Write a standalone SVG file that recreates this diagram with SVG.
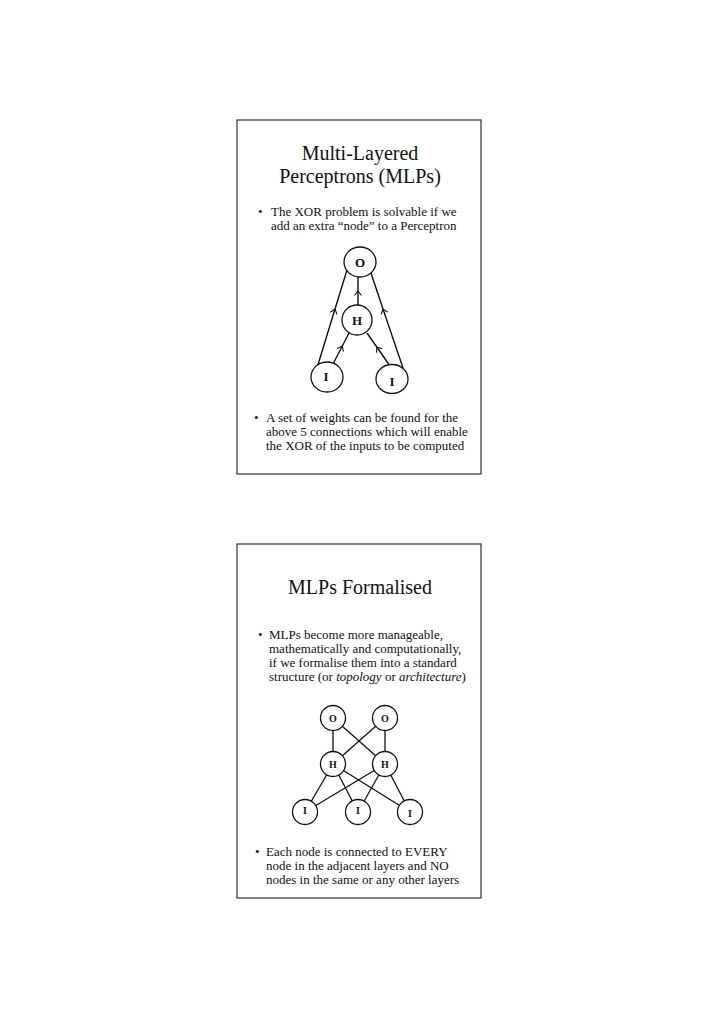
<svg xmlns="http://www.w3.org/2000/svg" width="720" height="1019" viewBox="0 0 720 1019">
<defs>
<style>
.frame{fill:#fff;stroke:#333;stroke-width:1.2}
.title{font-family:"Liberation Serif","Times New Roman",serif;font-size:20px;fill:#111;text-anchor:middle}
.body{font-family:"Liberation Serif","Times New Roman",serif;font-size:13px;fill:#111}
.n1{fill:#fff;stroke:#111;stroke-width:1.3}
.l1{font-family:"Liberation Serif",serif;font-size:13px;font-weight:bold;fill:#111;text-anchor:middle}
.l2{font-family:"Liberation Serif",serif;font-size:10px;font-weight:bold;fill:#111;text-anchor:middle}
.c1{fill:none;stroke:#111;stroke-width:1.4;marker-mid:url(#chev)}
.c2{fill:none;stroke:#111;stroke-width:1.3}
</style>
<marker id="chev" viewBox="-6 -5 8 10" markerWidth="8" markerHeight="10" markerUnits="userSpaceOnUse" orient="auto" refX="0" refY="0">
<path d="M-4.5,-3.5 L0,0 L-4.5,3.5" fill="none" stroke="#111" stroke-width="1.1"/>
</marker>
</defs>
<rect width="720" height="1019" fill="#fff"/>

<g id="slide1">
<rect class="frame" x="237" y="120" width="244" height="354"/>
<text class="title" x="360" y="160">Multi-Layered</text>
<text class="title" x="360" y="183">Perceptrons (MLPs)</text>
<text class="body" x="258" y="216">•</text>
<text class="body" x="271" y="216">The XOR problem is solvable if we</text>
<text class="body" x="271" y="230">add an extra “node” to a Perceptron</text>
<text class="body" x="254" y="422">•</text>
<text class="body" x="266" y="422">A set of weights can be found for the</text>
<text class="body" x="266" y="436">above 5 connections which will enable</text>
<text class="body" x="266" y="450">the XOR of the inputs to be computed</text>
</g>

<g id="connectors1">
<polyline class="c1" points="317,368 335,309 347,270"/>
<polyline class="c1" points="403,368 383,309 370,270"/>
<polyline class="c1" points="358,305 358,291 358,277"/>
<polyline class="c1" points="332,366 342.3,346 349,333"/>
<polyline class="c1" points="390,366 376.8,347 367,333"/>
</g>

<g id="node-O">
<ellipse class="n1" cx="360" cy="262" rx="16" ry="15"/>
<text class="l1" x="360" y="267">O</text>
</g>
<g id="node-H">
<ellipse class="n1" cx="357" cy="320" rx="15" ry="15"/>
<text class="l1" x="357" y="325">H</text>
</g>
<g id="node-I1">
<ellipse class="n1" cx="327" cy="377" rx="16" ry="15"/>
<text class="l1" x="326" y="381">I</text>
</g>
<g id="node-I2">
<ellipse class="n1" cx="392" cy="379" rx="16" ry="14.5"/>
<text class="l1" x="392" y="386">I</text>
</g>

<g id="slide2">
<rect class="frame" x="237" y="544" width="244" height="354"/>
<text class="title" x="360" y="594">MLPs Formalised</text>
<text class="body" x="258" y="639">•</text>
<text class="body" x="269" y="639">MLPs become more manageable,</text>
<text class="body" x="269" y="653">mathematically and computationally,</text>
<text class="body" x="269" y="667">if we formalise them into a standard</text>
<text class="body" x="269" y="681">structure (or <tspan font-style="italic">topology</tspan> or <tspan font-style="italic">architecture</tspan>)</text>
<text class="body" x="255" y="856">•</text>
<text class="body" x="266" y="856">Each node is connected to EVERY</text>
<text class="body" x="266" y="870">node in the adjacent layers and NO</text>
<text class="body" x="266" y="884">nodes in the same or any other layers</text>
</g>

<g id="connectors2">
<line class="c2" x1="333" y1="718" x2="333" y2="764"/>
<line class="c2" x1="385" y1="718" x2="385" y2="764"/>
<line class="c2" x1="333" y1="718" x2="385" y2="764"/>
<line class="c2" x1="385" y1="718" x2="333" y2="764"/>
<line class="c2" x1="333" y1="764" x2="305" y2="812"/>
<line class="c2" x1="333" y1="764" x2="358" y2="812"/>
<line class="c2" x1="333" y1="764" x2="410" y2="812"/>
<line class="c2" x1="385" y1="764" x2="305" y2="812"/>
<line class="c2" x1="385" y1="764" x2="358" y2="812"/>
<line class="c2" x1="385" y1="764" x2="410" y2="812"/>
</g>

<g id="node-O1"><circle class="n1" cx="333" cy="718" r="12.5"/><text class="l2" x="333" y="722">O</text></g>
<g id="node-O2"><circle class="n1" cx="385" cy="718" r="12.5"/><text class="l2" x="385" y="722">O</text></g>
<g id="node-H1"><circle class="n1" cx="333" cy="764" r="12.5"/><text class="l2" x="333" y="768">H</text></g>
<g id="node-H2"><circle class="n1" cx="385" cy="764" r="12.5"/><text class="l2" x="385" y="768">H</text></g>
<g id="node-I3"><circle class="n1" cx="305" cy="812" r="12.5"/><text class="l2" x="305" y="814">I</text></g>
<g id="node-I4"><circle class="n1" cx="358" cy="812" r="12.5"/><text class="l2" x="358" y="814">I</text></g>
<g id="node-I5"><circle class="n1" cx="410" cy="812" r="12.5"/><text class="l2" x="410" y="817">I</text></g>
</svg>
